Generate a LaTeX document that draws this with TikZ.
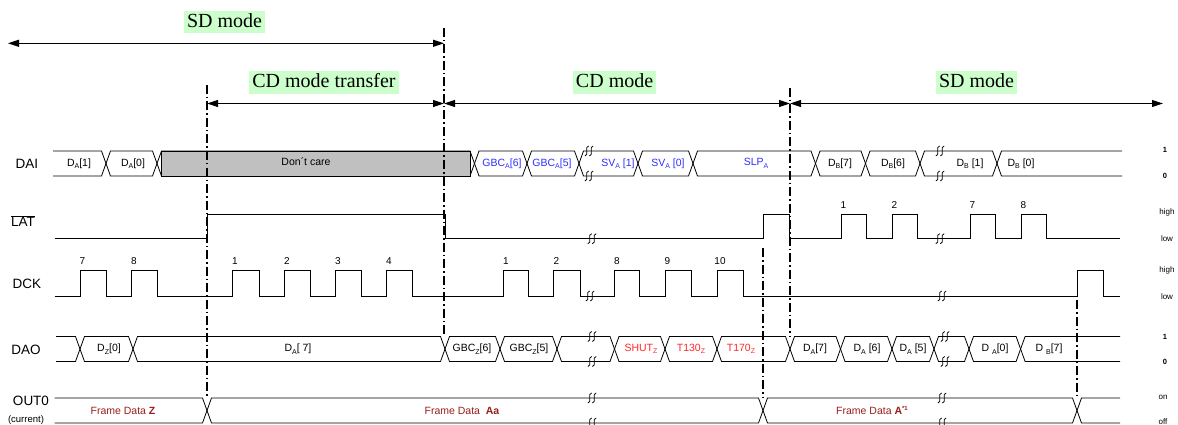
\documentclass[tikz,border=0pt]{standalone}
\usepackage{fontspec}
\setmainfont{Liberation Serif}
\newfontfamily\arialf{Liberation Sans}
\usetikzlibrary{arrows.meta}
\definecolor{hlgreen}{RGB}{204,255,204}
\definecolor{dcgray}{RGB}{192,192,192}
\definecolor{txblue}{RGB}{45,45,255}
\definecolor{txred}{RGB}{255,40,40}
\definecolor{txdred}{RGB}{150,30,30}
\newcommand\sbs[1]{\raisebox{-0.45ex}{\fontsize{7}{8}\selectfont #1}}
\newcommand\busseg[3]{\draw[bus] (#1,#3) -- (#1+4.5,#3-12.5) -- (#2-4.5,#3-12.5) -- (#2,#3) -- (#2-4.5,#3+12.5) -- (#1+4.5,#3+12.5) -- cycle;}
\newcommand\busopenl[3]{\draw[bus] (#1,#3-12.5) -- (#2-4.5,#3-12.5) -- (#2,#3) -- (#2-4.5,#3+12.5) -- (#1,#3+12.5);}
\newcommand\busopenr[3]{\draw[bus] (#2,#3-12.5) -- (#1+4.5,#3-12.5) -- (#1,#3) -- (#1+4.5,#3+12.5) -- (#2,#3+12.5);}
\begin{document}
\begin{tikzpicture}[x=1pt,y=-1pt,
  modelbl/.style={fill=hlgreen, font=\fontsize{20}{22}\selectfont, inner xsep=3pt, inner ysep=1.3pt, text height=15pt, text depth=4.5pt},
  sig/.style={line width=0.8pt, line join=miter},
  bus/.style={line width=0.8pt},
  mk/.style={line width=1.9pt, dash pattern=on 9pt off 3pt on 1.5pt off 3pt},
  dimarr/.style={line width=1.1pt, {Triangle[length=11pt,width=7pt]}-{Triangle[length=11pt,width=7pt]}},
  lbl/.style={font=\arialf\fontsize{13.5}{15}\selectfont, inner sep=0pt},
  blbl/.style={font=\arialf\fontsize{10.5}{12}\selectfont, inner sep=0pt},
  num/.style={font=\arialf\fontsize{10}{11}\selectfont, inner sep=0pt},
  rl/.style={font=\arialf\fontsize{8}{9}\selectfont, inner sep=0pt},
  rb/.style={font=\arialf\bfseries\fontsize{7.5}{9}\selectfont, inner sep=0pt},
  brk/.pic={\draw[line width=0.8pt] (-0.3,-5) .. controls (-5,-5) and (0.5,5) .. (-4.2,5)
                                     (4.2,-5) .. controls (-0.5,-5) and (5,5) .. (0.3,5);}
]
\useasboundingbox (0,0) rectangle (1178,425);

% ---------- mode labels and arrows
\node[modelbl] (sdA) at (224.5,22) {SD mode};
\node[modelbl] (cdt) at (324,82.5) {CD mode transfer};
\node[modelbl] (cdm) at (614.6,82.5) {CD mode};
\node[modelbl] (sdB) at (976.5,82.5) {SD mode};

\coordinate (m1t) at (207,85);     \coordinate (m1b) at (207,397);
\coordinate (m2t) at (444,28);     \coordinate (m2b) at (444,337);
\coordinate (m3t) at (790,88);     \coordinate (m3b) at (790,337);
\coordinate (m4t) at (763,248);    \coordinate (m4b) at (763,398);
\coordinate (m5t) at (1077,300);   \coordinate (m5b) at (1077,398);
\coordinate (aL) at (8,43.3);
\coordinate (row2) at (0,103.5);
\coordinate (aR) at (1163,103.5);

\draw[dimarr] (aL) -- (aL -| m2t);
\draw[dimarr] (row2 -| m1t) -- (row2 -| m2t);
\draw[dimarr] (row2 -| m2t) -- (row2 -| m3t);
\draw[dimarr] (row2 -| m3t) -- (aR);

% ---------- left labels
\node[lbl] (lDAI) at (27,163.5) {DAI};
\node[lbl] (lLAT) at (23,221) {$\overline{\hbox{LAT}}$};
\node[lbl] (lDCK) at (27,284) {DCK};
\node[lbl] (lDAO) at (26,350) {DAO};
\node[lbl] (lOUT) at (31,401) {OUT0};
\node[font=\arialf\fontsize{9.5}{10}\selectfont, inner sep=0pt] (lcur) at (26,420) {(current)};

% ---------- right labels
\node[rb] (r1) at (1165,150) {1};
\node[rb] (r2) at (1165,176) {0};
\node[rl] (r3) at (1167,212) {high};
\node[rl] (r4) at (1167,239) {low};
\node[rl] (r5) at (1167,270) {high};
\node[rl] (r6) at (1167,297) {low};
\node[rb] (r7) at (1165,337) {1};
\node[rb] (r8) at (1165,362) {0};
\node[rl] (r9) at (1163,397) {on};
\node[rl] (r10) at (1163,422) {off};

% ---------- DAI bus
\busopenl{53}{106}{163.5}
\busseg{106}{157}{163.5}
\busseg{157}{474.5}{163.5}
\filldraw[fill=dcgray, bus] (161.5,151) rectangle (470,176);
\busseg{474.5}{527}{163.5}
\busseg{527}{579}{163.5}
\busseg{579}{638}{163.5}
\busseg{638}{693}{163.5}
\busseg{693}{815.5}{163.5}
\busseg{815.5}{865.5}{163.5}
\busseg{865.5}{920}{163.5}
\busseg{920}{997}{163.5}
\busopenr{997}{1122}{163.5}
\pic at (589,151) {brk}; \pic at (589,176) {brk};
\pic at (940,151) {brk}; \pic at (940,176) {brk};

\node[blbl] (a1) at (79,163.5) {D\sbs{A}[1]};
\node[blbl] (a2) at (133,163.5) {D\sbs{A}[0]};
\node[blbl] (a3) at (306,161.5) {Don´t care};
\node[blbl, text=txblue] (a4) at (502,163.5) {GBC\sbs{A}[6]};
\node[blbl, text=txblue] (a5) at (552,163.5) {GBC\sbs{A}[5]};
\node[blbl, text=txblue] (a6) at (618,163.5) {SV\sbs{A} [1]};
\node[blbl, text=txblue] (a7) at (668,163.5) {SV\sbs{A} [0]};
\node[blbl, text=txblue] (a8) at (756,163.5) {SLP\sbs{A}};
\node[blbl] (a9) at (840,163.5) {D\sbs{B}[7]};
\node[blbl] (a10) at (893,163.5) {D\sbs{B}[6]};
\node[blbl] (a11) at (970,163.5) {D\sbs{B} [1]};
\node[blbl] (a12) at (1021,163.5) {D\sbs{B} [0]};

% ---------- LAT
\draw[sig] (54.6,238.7) -- (207,238.7) -- (207,214) -- (445,214) -- (445,238.7)
  -- (763,238.7) -- (763,214) -- (789.6,214) -- (789.6,238.7)
  -- (841,238.7) -- (841,214) -- (866,214) -- (866,238.7)
  -- (892,238.7) -- (892,214) -- (917,214) -- (917,238.7)
  -- (970,238.7) -- (970,214) -- (995.5,214) -- (995.5,238.7)
  -- (1021,238.7) -- (1021,214) -- (1046,214) -- (1046,238.7) -- (1120,238.7);
\pic at (592,238.7) {brk};
\pic at (940,238.7) {brk};
\node[num] (t1) at (843.5,205) {1};
\node[num] (t2) at (894.5,205) {2};
\node[num] (t3) at (972.5,205) {7};
\node[num] (t4) at (1023.5,205) {8};

% ---------- DCK
\draw[sig] (54.6,296) -- (80,296) -- (80,270) -- (106,270) -- (106,296)
  -- (131.5,296) -- (131.5,270) -- (157,270) -- (157,296)
  -- (232.7,296) -- (232.7,270) -- (259.6,270) -- (259.6,296)
  -- (284.6,296) -- (284.6,270) -- (310.8,270) -- (310.8,296)
  -- (335.8,296) -- (335.8,270) -- (361.5,270) -- (361.5,296)
  -- (386.5,296) -- (386.5,270) -- (412.7,270) -- (412.7,296)
  -- (503.8,296) -- (503.8,270) -- (528.8,270) -- (528.8,296)
  -- (553.8,296) -- (553.8,270) -- (580,270) -- (580,296)
  -- (614.5,296) -- (614.5,270) -- (639.4,270) -- (639.4,296)
  -- (665,296) -- (665,270) -- (691,270) -- (691,296)
  -- (717,296) -- (717,270) -- (743.6,270) -- (743.6,296)
  -- (1077,296) -- (1077,270) -- (1103,270) -- (1103,296) -- (1120,296);
\pic at (590,296) {brk};
\pic at (942,296) {brk};
\node[num] (k1) at (82.5,261) {7};
\node[num] (k2) at (134,261) {8};
\node[num] (k3) at (235,261) {1};
\node[num] (k4) at (287,261) {2};
\node[num] (k5) at (338,261) {3};
\node[num] (k6) at (389,261) {4};
\node[num] (k7) at (506,261) {1};
\node[num] (k8) at (556.5,261) {2};
\node[num] (k9) at (617,261) {8};
\node[num] (k10) at (667.5,261) {9};
\node[num] (k11) at (720,261) {10};

% ---------- DAO bus
\busopenl{56}{80}{349}
\busseg{80}{133}{349}
\busseg{133}{445}{349}
\busseg{445}{500}{349}
\busseg{500}{557}{349}
\busseg{557}{614.5}{349}
\busseg{614.5}{665}{349}
\busseg{665}{717}{349}
\busseg{717}{790}{349}
\busseg{790}{840.5}{349}
\busseg{840.5}{892}{349}
\busseg{892}{934}{349}
\busseg{934}{969}{349}
\busseg{969}{1020.6}{349}
\busopenr{1020.6}{1120}{349}
\pic at (592,336.5) {brk}; \pic at (592,361.5) {brk};
\pic at (945,336.5) {brk}; \pic at (945,361.5) {brk};

\node[blbl] (o1) at (109,349) {D\sbs{Z}[0]};
\node[blbl] (o2) at (298,349) {D\sbs{A}[ 7]};
\node[blbl] (o3) at (472,349) {GBC\sbs{Z}[6]};
\node[blbl] (o4) at (529,349) {GBC\sbs{Z}[5]};
\node[blbl, text=txred] (o5) at (641,349) {SHUT\sbs{Z}};
\node[blbl, text=txred] (o6) at (691,349) {T130\sbs{Z}};
\node[blbl, text=txred] (o7) at (741,349) {T170\sbs{Z}};
\node[blbl] (o8) at (815,349) {D\sbs{A}[7]};
\node[blbl] (o9) at (867,349) {D\sbs{A} [6]};
\node[blbl] (o10) at (913,349) {D\sbs{A} [5]};
\node[blbl] (o11) at (995,349) {D \sbs{A}[0]};
\node[blbl] (o12) at (1049,349) {D \sbs{B}[7]};

% ---------- OUT0 bus
\busopenl{54.6}{207}{410.5}
\busseg{207}{763}{410.5}
\busseg{763}{1077}{410.5}
\busopenr{1077}{1120}{410.5}
\pic at (592,398) {brk}; \pic at (592,423) {brk};
\pic at (942,398) {brk}; \pic at (942,423) {brk};
\node[blbl, text=txdred] (f1) at (123,410.5) {Frame Data \textbf{Z}};
\node[blbl, text=txdred] (f2) at (462,410.5) {Frame Data \ \textbf{Aa}};
\node[blbl, text=txdred] (f3) at (872,410.5) {Frame Data \textbf{A}\raisebox{0.8ex}{\fontsize{6}{7}\selectfont\bfseries *1}};

% ---------- mode boundary lines
\draw[mk] (m1t) -- (m1b);
\draw[mk] (m2t) -- (m2b);
\draw[mk] (m3t) -- (m3b);
\draw[mk] (m4t) -- (m4b);
\draw[mk] (m5t) -- (m5b);
\end{tikzpicture}
\end{document}
